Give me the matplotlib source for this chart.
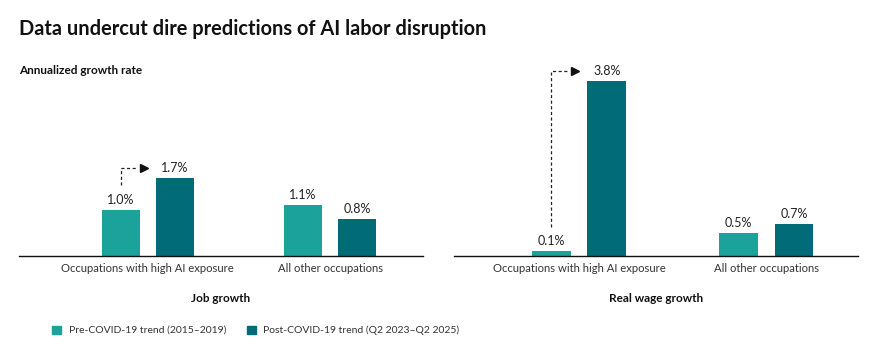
import matplotlib
matplotlib.use("Agg")
import matplotlib.pyplot as plt
from matplotlib.patches import Rectangle
import numpy as np

categories = ["Occupations with high AI exposure", "All other occupations"]
panels = ["Job growth", "Real wage growth"]
pre_covid = [[1.0, 1.1], [0.1, 0.5]]
post_covid = [[1.7, 0.8], [3.8, 0.7]]
series_names = ["Pre-COVID-19 trend (2015\u20132019)", "Post-COVID-19 trend (Q2 2023\u2013Q2 2025)"]
colors = ["#1ba39b", "#026b78"]

plt.rcParams['font.family'] = ['Lato', 'DejaVu Sans']
fig = plt.figure(figsize=(8.69, 3.46), dpi=100)

W, H = 869, 346
def ax_rect(x0, x1, ytop, ybot):
    return [x0 / W, 1 - ybot / H, (x1 - x0) / W, (ybot - ytop) / H]

axes = [fig.add_axes(ax_rect(19, 423, 60, 256)), fig.add_axes(ax_rect(454, 858, 60, 256))]
xlims = [(-0.707, 1.51), (-0.668, 1.49)]
ymax = (256 - 60) / 46.0
bw = 0.206
off = 0.148
x = np.arange(len(categories))

for i, ax in enumerate(axes):
    pre = pre_covid[i]
    post = post_covid[i]
    ax.bar(x - off, pre, bw, color=colors[0])
    ax.bar(x + off, post, bw, color=colors[1])
    for xs, vals in ((x - off, pre), (x + off, post)):
        for xx, v in zip(xs, vals):
            ax.annotate(f"{v:.1f}%", (xx, v), xytext=(0, 3), textcoords="offset points",
                        ha="center", va="bottom", fontsize=9, color="#222222")
    ax.set_xlim(*xlims[i])
    ax.set_ylim(0, ymax)
    for s in ["top", "right", "left"]:
        ax.spines[s].set_visible(False)
    ax.spines["bottom"].set_color("#111111")
    ax.spines["bottom"].set_linewidth(1.0)
    ax.set_yticks([])
    ax.set_xticks(x)
    ax.set_xticklabels(categories, fontsize=8.1, color="#333333")
    ax.tick_params(axis="x", length=0, pad=5)
    ax.set_xlabel(panels[i], fontsize=8.5, fontweight="bold", labelpad=14, color="#111111")
    # dashed elbow arrow from pre bar to post bar (first group)
    top = post[0] + 0.22
    bottom = pre[0] + 0.54
    ax.plot([-off, -off, -0.06], [bottom, top, top], ls=(0, (2.5, 2)), color="#222222", lw=0.9)
    ax.plot([-0.02], [top], marker=">", color="#111111", markersize=6, ls="none")

fig.text(19 / W, 1 - 29 / H, "Data undercut dire predictions of AI labor disruption",
         fontsize=14.4, fontweight="bold", va="center", ha="left", color="#111111")
fig.text(19 / W, 1 - 70 / H, "Annualized growth rate", fontsize=8.5, fontweight="bold",
         va="center", ha="left", color="#111111")

# legend
leg_items = [(52, 69, series_names[0], colors[0]), (247, 263, series_names[1], colors[1])]
for sx, tx, label, c in leg_items:
    fig.patches.append(Rectangle((sx / W, 1 - 334 / H), 9 / W, 8 / H, transform=fig.transFigure,
                                 color=c, figure=fig))
    fig.text(tx / W, 1 - 330 / H, label, fontsize=7.5, va="center", ha="left", color="#333333")

fig.savefig("out.png", dpi=100)
